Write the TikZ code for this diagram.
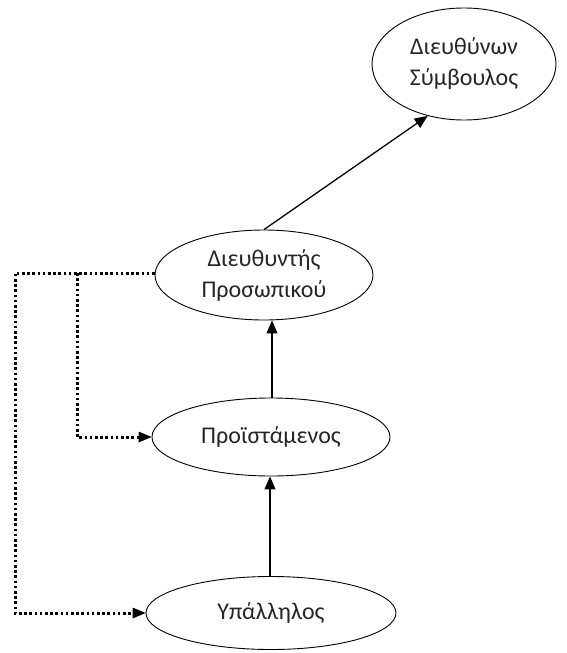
\documentclass[tikz,border=0pt]{standalone}
\usepackage{fontspec}
\setmainfont{Carlito}
\usepackage{tikz}
\usetikzlibrary{shapes.geometric}
\usetikzlibrary{positioning}
\usetikzlibrary{arrows.meta}
\tikzset{x=1pt, y=-1pt,
	role/.style={
		ellipse,
		draw,
		line width=0.9pt,
		inner sep=0pt,
		align=center,
		text=black!85,
		font=\fontsize{24}{31}\selectfont},
	link/.style={
		draw,
		-{Triangle[length=13pt,width=11pt]},
		line width=1.3pt},
	dots/.style={
		draw,
		line width=3pt,
		dash pattern=on 2.6pt off 2.6pt,
		-{Triangle[length=13pt,width=11pt,line width=0pt]}}
}

\begin{document}
\begin{tikzpicture}
			\useasboundingbox (0,0) rectangle (566,653);
			\node[role, minimum width=250pt, minimum height=73pt] (ypal) at (271,613) {Υπάλληλος};
			\node[role, minimum width=238pt, minimum height=78pt] (proi) at (271,437) {Προϊστάμενος};
			\node[role, minimum width=218pt, minimum height=90pt] (dieuth) at (264,275) {Διευθυντής\\Προσωπικού};
			\node[role, minimum width=184pt, minimum height=112pt] (ceo) at (464,64) {Διευθύνων\\Σύμβουλος};
			\coordinate (corner) at (15,273);
			\coordinate (split) at (77,273);
			\draw[link] (ypal.north -| 270,0) -- (proi.south -| 270,0);
			\draw[link] (proi.north -| 272,0) -- (dieuth.south -| 272,0);
			\draw[link] (dieuth.north) -- (ceo.-125);
			\draw[dots] (dieuth.west |- corner) -- (corner) |- (ypal.west);
			\draw[dots] (split) |- (proi.west);
		\end{tikzpicture}
\end{document}
